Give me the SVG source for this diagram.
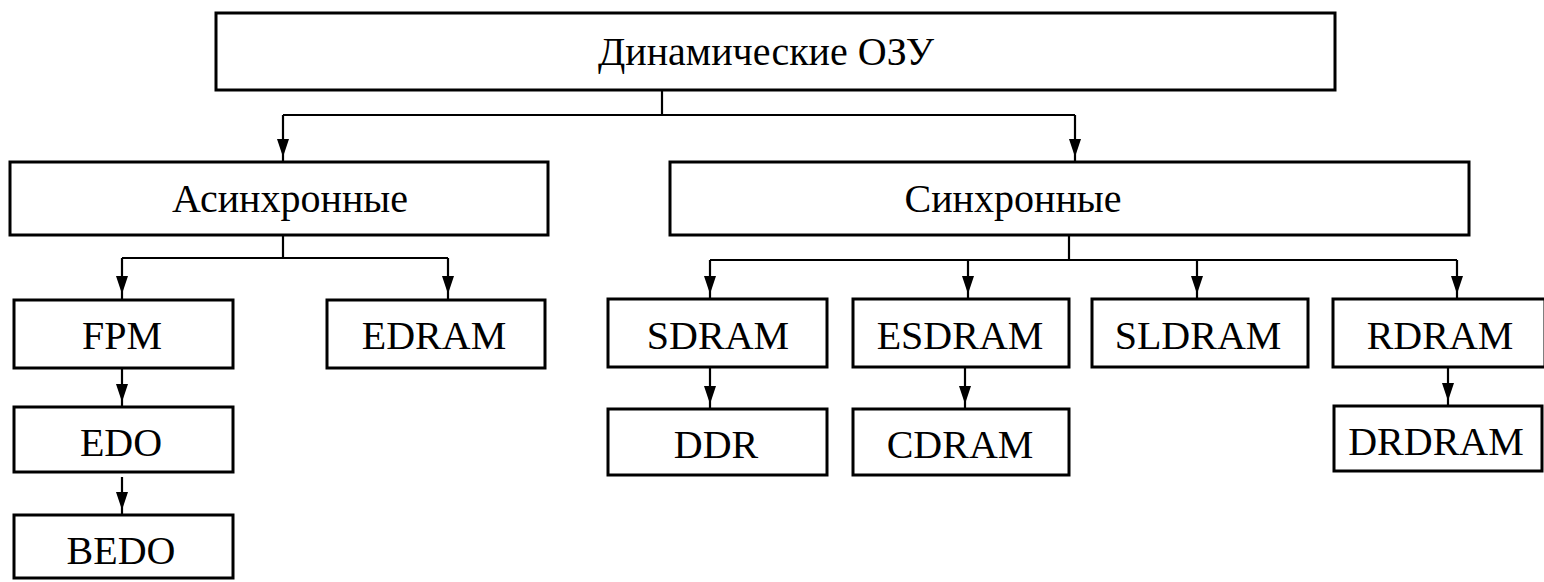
<svg xmlns="http://www.w3.org/2000/svg" xmlns:xlink="http://www.w3.org/1999/xlink" width="1544" height="582" viewBox="0 0 1544 582">
<style>
.box{fill:#fff;stroke:#000;stroke-width:3}
.lbl{font-family:"Liberation Serif","Times New Roman",serif;font-size:40px;fill:#000;text-anchor:middle}
.ln{fill:none;stroke:#000;stroke-width:2.2}
.ah{fill:#000}
</style>
<defs>
<polygon id="arr" points="-6,-21 6,-21 3,-12 0,-3 -3,-12"/>
</defs>
<rect width="1544" height="582" fill="#fff"/>
<g id="connectors">
<path class="ln" d="M662 90V115M283 115H1075M283 115V162M1075 115V162"/>
<path class="ln" d="M283 235V258M122 258H448M122 258V300M448 258V300"/>
<path class="ln" d="M122 368V407M122 477V515"/>
<path class="ln" d="M1069 235V260M710 260H1457M710 260V299M968 260V299M1197 260V299M1457 260V299"/>
<path class="ln" d="M710 367V409M965 367V409M1448 367V406"/>
<g class="ah">
<use xlink:href="#arr" x="283" y="160"/>
<use xlink:href="#arr" x="1075" y="160"/>
<use xlink:href="#arr" x="122" y="297"/>
<use xlink:href="#arr" x="448" y="297"/>
<use xlink:href="#arr" x="122" y="405"/>
<use xlink:href="#arr" x="122" y="513"/>
<use xlink:href="#arr" x="710" y="297"/>
<use xlink:href="#arr" x="968" y="297"/>
<use xlink:href="#arr" x="1197" y="297"/>
<use xlink:href="#arr" x="1457" y="297"/>
<use xlink:href="#arr" x="710" y="407"/>
<use xlink:href="#arr" x="965" y="407"/>
<use xlink:href="#arr" x="1448" y="404"/>
</g>
</g>
<g id="n-dram"><rect class="box" x="216" y="13" width="1119" height="77"/><text class="lbl" x="766" y="65">Динамические ОЗУ</text></g>
<g id="n-async"><rect class="box" x="10" y="162" width="538" height="73"/><text class="lbl" x="290" y="212">Асинхронные</text></g>
<g id="n-sync"><rect class="box" x="670" y="162" width="799" height="73"/><text class="lbl" x="1013" y="212">Синхронные</text></g>
<g id="n-fpm"><rect class="box" x="14" y="300" width="219" height="68"/><text class="lbl" x="122" y="349">FPM</text></g>
<g id="n-edram"><rect class="box" x="327" y="300" width="218" height="68"/><text class="lbl" x="434" y="349">EDRAM</text></g>
<g id="n-edo"><rect class="box" x="14" y="407" width="219" height="65"/><text class="lbl" x="121" y="456">EDO</text></g>
<g id="n-bedo"><rect class="box" x="14" y="515" width="219" height="63"/><text class="lbl" x="121" y="564">BEDO</text></g>
<g id="n-sdram"><rect class="box" x="608" y="299" width="219" height="68"/><text class="lbl" x="718" y="349">SDRAM</text></g>
<g id="n-esdram"><rect class="box" x="853" y="299" width="216" height="68"/><text class="lbl" x="960" y="349">ESDRAM</text></g>
<g id="n-sldram"><rect class="box" x="1092" y="299" width="216" height="68"/><text class="lbl" x="1198" y="349">SLDRAM</text></g>
<g id="n-rdram"><rect class="box" x="1333" y="299" width="212" height="68"/><text class="lbl" x="1440" y="349">RDRAM</text></g>
<g id="n-ddr"><rect class="box" x="608" y="409" width="219" height="66"/><text class="lbl" x="716" y="458">DDR</text></g>
<g id="n-cdram"><rect class="box" x="853" y="409" width="216" height="66"/><text class="lbl" x="960" y="458">CDRAM</text></g>
<g id="n-drdram"><rect class="box" x="1334" y="406" width="208" height="65"/><text class="lbl" x="1436" y="455">DRDRAM</text></g>
</svg>
